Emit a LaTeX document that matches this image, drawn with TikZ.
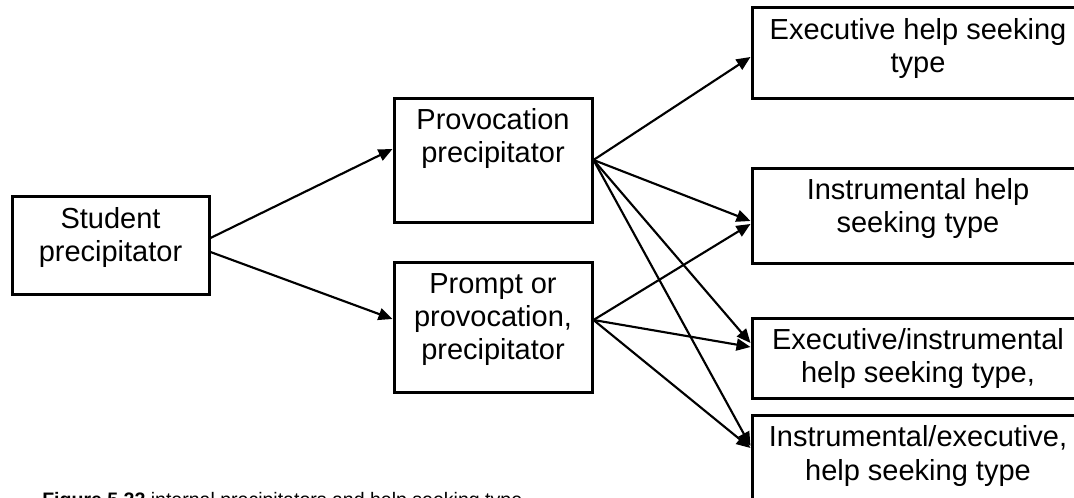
\documentclass[tikz,border=0pt]{standalone}
\usepackage{fontspec}
\setmainfont{Liberation Sans}
\usetikzlibrary{calc,arrows.meta}

\begin{document}
\begin{tikzpicture}[x=0.75pt,y=-0.75pt,
  box/.style={draw,line width=2.25pt,rectangle,inner sep=0pt},
  lbl/.style={align=center,inner sep=0pt,anchor=base,
    font=\fontsize{21.75pt}{24.75pt}\selectfont},
  link/.style={line width=1.6pt,-{Triangle[length=10.5pt,width=9pt]}}]
  \useasboundingbox (0,0) rectangle (1074,498);
  \clip (0,0) rectangle (1074,498);

  % boxes
  \node[box,minimum width=147.75pt,minimum height=73.5pt] (stud) at (110.5,246) {};
  \node[box,minimum width=148.5pt,minimum height=93pt] (prov) at (493,161) {};
  \node[box,minimum width=148.5pt,minimum height=97.5pt] (prompt) at (493,328) {};
  \node[box,minimum width=249pt,minimum height=68.25pt] (exec) at (918,53.5) {};
  \node[box,minimum width=249pt,minimum height=71.25pt] (instr) at (918,216.5) {};
  \node[box,minimum width=249pt,minimum height=60pt] (ei) at (918,359) {};
  \node[box,minimum width=249pt,minimum height=71.25pt] (ie) at (918,463.5) {};

  % box texts (placed at the baseline of their last line)
  \node[lbl] (studT) at (110.5,262) {Student\\precipitator};
  \node[lbl] (provT) at (493,163) {Provocation\\precipitator};
  \node[lbl] (promptT) at (493,360) {Prompt or\\provocation,\\precipitator};
  \node[lbl] (execT) at (918,73) {Executive help seeking\\type};
  \node[lbl] (instrT) at (918,233) {Instrumental help\\seeking type};
  \node[lbl] (eiT) at (918,383) {Executive/instrumental\\help seeking type,};
  \node[lbl] (ieT) at (918,480) {Instrumental/executive,\\help seeking type};

  % connectors
  \draw[link] ($(stud.east)+(0,-8)$) -- ($(prov.west)+(0,-12)$);
  \draw[link] ($(stud.east)+(0,6)$) -- ($(prompt.west)+(0,-9)$);

  \draw[link] ($(prov.east)+(0,-1)$) -- ($(exec.west)+(0,3.5)$);
  \draw[link] ($(prov.east)+(0,-1)$) -- ($(instr.west)+(0,4.5)$);
  \draw[link] ($(prov.east)+(0,-1)$) -- ($(ei.west)+(0,-16)$);
  \draw[link] ($(prov.east)+(0,-1)$) -- ($(ie.west)+(0,-17.5)$);

  \draw[link] ($(prompt.east)+(0,-8)$) -- ($(instr.west)+(0,7.5)$);
  \draw[link] ($(prompt.east)+(0,-8)$) -- ($(ei.west)+(0,-12)$);
  \draw[link] ($(prompt.east)+(0,-8)$) -- ($(ie.west)+(0,-15.5)$);

  % caption
  \node[anchor=base west,inner sep=0pt,font=\fontsize{14.65pt}{17.5pt}\selectfont] (cap)
    at (42,506) {\textbf{Figure 5.22} internal precipitators and help seeking type};
\end{tikzpicture}
\end{document}
